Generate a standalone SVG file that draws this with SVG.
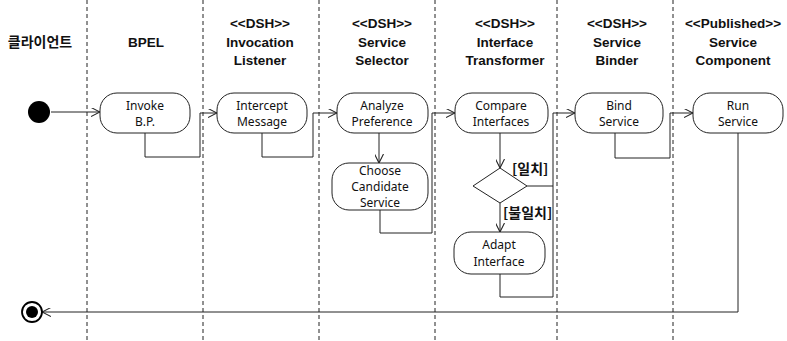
<svg xmlns="http://www.w3.org/2000/svg" width="787" height="341" viewBox="0 0 787 341">
<defs>
<style>
.lane{stroke:#222;stroke-width:1;stroke-dasharray:4 3;fill:none}
.hd{font-family:"Liberation Sans",Arial,"Noto Sans CJK KR",sans-serif;font-weight:bold;font-size:13.5px;fill:#111;text-anchor:middle}
.kr{font-family:"Noto Sans CJK KR",sans-serif;font-weight:bold;font-size:14px;fill:#111}
.box{fill:#fff;stroke:#222;stroke-width:1}
.lbl{font-family:"Noto Sans","Liberation Sans",sans-serif;font-size:12px;fill:#111;text-anchor:middle}
.edge{fill:none;stroke:#222;stroke-width:1}
</style>
<marker id="arr" viewBox="0 0 10 10" refX="10" refY="5" markerWidth="9" markerHeight="9" orient="auto" markerUnits="userSpaceOnUse">
<path d="M0,0 L10,5 L0,10" fill="none" stroke="#222" stroke-width="1.2"/>
</marker>
</defs>
<rect width="787" height="341" fill="#fff"/>
<g id="lanes">
<line class="lane" x1="87" y1="0" x2="87" y2="341"/>
<line class="lane" x1="203" y1="0" x2="203" y2="341"/>
<line class="lane" x1="319" y1="0" x2="319" y2="341"/>
<line class="lane" x1="435" y1="0" x2="435" y2="341"/>
<line class="lane" x1="557" y1="0" x2="557" y2="341"/>
<line class="lane" x1="673" y1="0" x2="673" y2="341"/>
</g>
<g id="headers">
<text class="kr" x="40" y="47" text-anchor="middle">클라이언트</text>
<text class="hd" x="146" y="47">BPEL</text>
<text class="hd" x="260" y="28">&lt;&lt;DSH&gt;&gt;</text>
<text class="hd" x="260" y="47">Invocation</text>
<text class="hd" x="260" y="65">Listener</text>
<text class="hd" x="382" y="28">&lt;&lt;DSH&gt;&gt;</text>
<text class="hd" x="382" y="47">Service</text>
<text class="hd" x="382" y="65">Selector</text>
<text class="hd" x="505" y="28">&lt;&lt;DSH&gt;&gt;</text>
<text class="hd" x="505" y="47">Interface</text>
<text class="hd" x="505" y="65">Transformer</text>
<text class="hd" x="617" y="28">&lt;&lt;DSH&gt;&gt;</text>
<text class="hd" x="617" y="47">Service</text>
<text class="hd" x="617" y="65">Binder</text>
<text class="hd" x="733" y="28">&lt;&lt;Published&gt;&gt;</text>
<text class="hd" x="733" y="47">Service</text>
<text class="hd" x="733" y="65">Component</text>
</g>
<g id="connectors">
<line class="edge" x1="51" y1="112" x2="100" y2="112" marker-end="url(#arr)"/>
<path class="edge" d="M145,133 V157 H200 V113 H217" marker-end="url(#arr)"/>
<path class="edge" d="M262,133 V157 H313 V113 H337" marker-end="url(#arr)"/>
<line class="edge" x1="379" y1="133" x2="379" y2="163" marker-end="url(#arr)"/>
<path class="edge" d="M380,210 V233 H432 V113 H455" marker-end="url(#arr)"/>
<line class="edge" x1="500" y1="133" x2="500" y2="168" marker-end="url(#arr)"/>
<path class="edge" d="M527,186 H553 V113 H575" marker-end="url(#arr)"/>
<line class="edge" x1="500" y1="203" x2="500" y2="232" marker-end="url(#arr)"/>
<path class="edge" d="M500,274 V297 H553 V186"/>
<path class="edge" d="M615,133 V158 H670 V113 H693" marker-end="url(#arr)"/>
<path class="edge" d="M738,133 V312 H42" marker-end="url(#arr)"/>
<text class="kr" x="512" y="174" font-size="12.5">[일치]</text>
<text class="kr" x="503" y="218" font-size="12.5">[불일치]</text>
</g>
<g id="start"><circle cx="39" cy="112" r="11" fill="#000"/></g>
<g id="end"><circle cx="32" cy="312" r="10" fill="#fff" stroke="#000" stroke-width="1.8"/><circle cx="32" cy="312" r="6" fill="#000"/></g>
<g id="invoke"><rect class="box" x="100" y="93" width="90" height="40" rx="17"/><text class="lbl" x="145" y="110">Invoke</text><text class="lbl" x="145" y="126">B.P.</text></g>
<g id="intercept"><rect class="box" x="217" y="93" width="90" height="40" rx="17"/><text class="lbl" x="262" y="110">Intercept</text><text class="lbl" x="262" y="126">Message</text></g>
<g id="analyze"><rect class="box" x="337" y="93" width="91" height="40" rx="17"/><text class="lbl" x="382" y="110">Analyze</text><text class="lbl" x="382" y="126">Preference</text></g>
<g id="choose"><rect class="box" x="332" y="163" width="96" height="47" rx="17"/><text class="lbl" x="380" y="175">Choose</text><text class="lbl" x="380" y="191">Candidate</text><text class="lbl" x="380" y="207">Service</text></g>
<g id="compare"><rect class="box" x="455" y="93" width="93" height="40" rx="17"/><text class="lbl" x="501" y="110">Compare</text><text class="lbl" x="501" y="126">Interfaces</text></g>
<g id="decision"><polygon class="box" points="500,168 527,186 500,203 473,186"/></g>
<g id="adapt"><rect class="box" x="454" y="232" width="91" height="42" rx="17"/><text class="lbl" x="499" y="249">Adapt</text><text class="lbl" x="499" y="266">Interface</text></g>
<g id="bind"><rect class="box" x="575" y="93" width="88" height="40" rx="17"/><text class="lbl" x="619" y="110">Bind</text><text class="lbl" x="619" y="126">Service</text></g>
<g id="run"><rect class="box" x="693" y="93" width="90" height="40" rx="17"/><text class="lbl" x="738" y="110">Run</text><text class="lbl" x="738" y="126">Service</text></g>
</svg>
